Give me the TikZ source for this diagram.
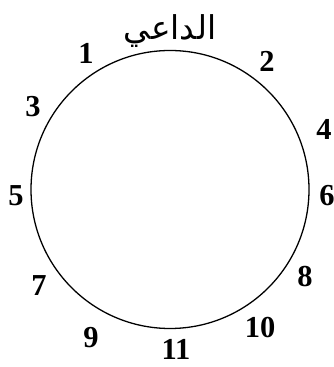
\documentclass[tikz,border=0pt]{standalone}
\usepackage{fontspec}
\setmainfont{Liberation Serif}
\newfontfamily\arabicfont[Script=Arabic]{DejaVu Sans}
\TeXXeTstate=1
\usetikzlibrary{positioning}

\begin{document}
\begin{tikzpicture}[
  x=0.03cm, y=0.03cm,
  every node/.style={inner sep=0pt, outer sep=0pt},
  num/.style={font=\fontsize{26}{30}\selectfont\bfseries},
  ring/.style={draw, line width=1.1pt, circle, minimum size=278*0.03cm},
]
\useasboundingbox (0,0) rectangle (333,367);

% dial
\node[ring] (dial) at (170,177.5) {};
\node[font=\arabicfont\fontsize{28}{32}\selectfont] (caller) at (170,336)
  {\beginR الداعي\endR};

% seat numbers
\node[num] (n1)  at (86,314)  {1};
\node[num] (n2)  at (267,306) {2};
\node[num] (n3)  at (33,260)  {3};
\node[num] (n4)  at (324,238) {4};
\node[num] (n5)  at (16,171)  {5};
\node[num] (n6)  at (327,171) {6};
\node[num] (n7)  at (39,81)   {7};
\node[num] (n8)  at (305,90)  {8};
\node[num] (n9)  at (91,29)   {9};
\node[num] (n10) at (260,39)  {10};
\node[num] (n11) at (176,18)  {11};

\end{tikzpicture}
\end{document}
